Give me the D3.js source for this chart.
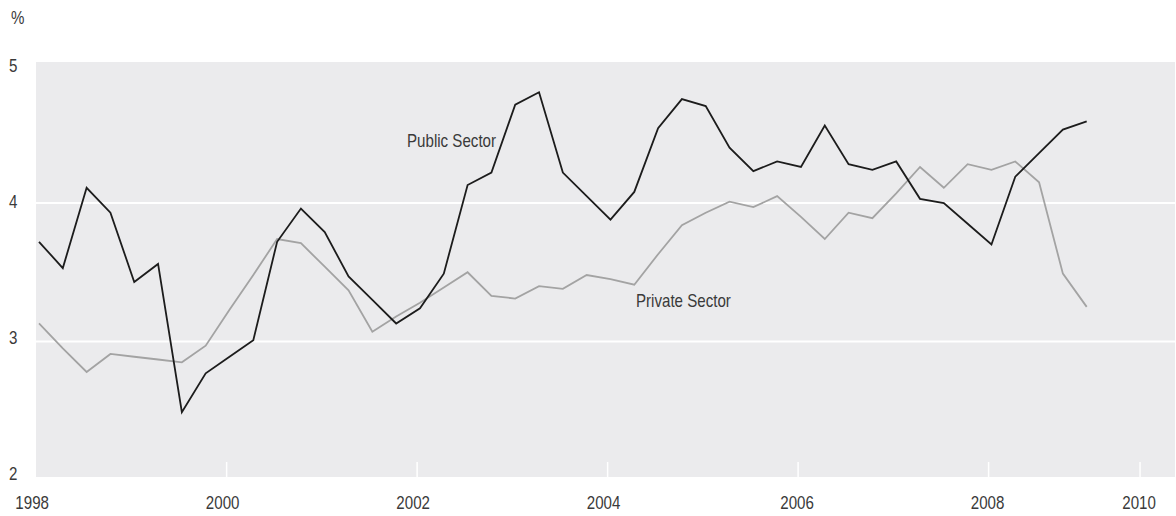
<!DOCTYPE html>
<html>
<head>
<meta charset="utf-8">
<script src="https://cdn.jsdelivr.net/npm/d3@7"></script>
<style>
  html, body { margin: 0; padding: 0; background: #fff; }
  svg text { font-family: "Liberation Sans Narrow", "Arial Narrow", "Liberation Sans", sans-serif; fill: #3a3a3a; }
</style>
</head>
<body>
<div id="chart"></div>
<script>
/* global d3 */

// quarterly, 1998 Q1 .. 2009 Q1
var quarters = d3.range(0, 45).map(function (i) {
  return 1998 + i / 4;
});

var publicSector = [
  3.72, 3.53, 4.11, 3.93, 3.43, 3.56, 2.49, 2.77, 2.89, 3.01,
  3.72, 3.96, 3.79, 3.47, 3.30, 3.13, 3.24, 3.49, 4.13, 4.22,
  4.71, 4.80, 4.22, 4.05, 3.88, 4.08, 4.54, 4.75, 4.70, 4.40,
  4.23, 4.30, 4.26, 4.56, 4.28, 4.24, 4.30, 4.03, 4.00, 3.85,
  3.70, 4.19, 4.36, 4.53, 4.59
];

var privateSector = [
  3.13, 2.95, 2.78, 2.91, 2.89, 2.87, 2.85, 2.97, 3.23, 3.48,
  3.74, 3.71, 3.54, 3.37, 3.07, 3.18, 3.28, 3.39, 3.50, 3.33,
  3.31, 3.40, 3.38, 3.48, 3.45, 3.41, 3.63, 3.84, 3.93, 4.01,
  3.97, 4.05, 3.90, 3.74, 3.93, 3.89, 4.07, 4.26, 4.11, 4.28,
  4.24, 4.30, 4.15, 3.49, 3.25
];

var yTicks = [2, 3, 4, 5];
var xTickLabels = ['1998', '2000', '2002', '2004', '2006', '2008', '2010'];
// the source places the year ticks just ahead of the first quarter, the last one is squeezed in
var xTickAt = [1997.97, 1999.97, 2001.97, 2003.97, 2005.97, 2007.97, 2009.56];

var WIDTH = 1176;
var HEIGHT = 516;
var FONT = 18;
var SQUEEZE = 0.84; // no narrow face installed, so squeeze the regular one
var plot = { left: 36, right: 1175, top: 62, bottom: 477 };

var svg = d3.select('#chart')
  .append('svg')
  .attr('width', WIDTH)
  .attr('height', HEIGHT);

var x = d3.scaleLinear()
  .domain([1998, 2009])
  .range([39, 1086.7]);

var y = d3.scaleLinear()
  .domain([2, 5])
  .range([480, 64.5]);

// the value labels sit a little off the grid in the source
var yLabel = d3.scaleLinear()
  .domain([2, 5])
  .range([474, 66]);

function label(g, px, py, str, anchor) {
  return g.append('text')
    .attr('transform', 'translate(' + px + ',' + py + ') scale(' + SQUEEZE + ',1)')
    .attr('text-anchor', anchor || 'start')
    .attr('font-size', FONT + 'px')
    .text(str);
}

// panel
svg.append('rect')
  .attr('x', plot.left)
  .attr('y', plot.top)
  .attr('width', plot.right - plot.left)
  .attr('height', plot.bottom - plot.top)
  .style('fill', '#ebebed');

// horizontal grid
svg.selectAll('line.grid')
  .data(yTicks.filter(function (d) { return d > 2 && d < 5; }))
  .enter()
  .append('line')
  .attr('class', 'grid')
  .attr('x1', plot.left)
  .attr('x2', plot.right)
  .attr('y1', function (d) { return y(d); })
  .attr('y2', function (d) { return y(d); })
  .style('stroke', '#fff')
  .style('stroke-width', 2);

// small white ticks at the bottom of the panel
svg.selectAll('line.xtick')
  .data(xTickAt.slice(1))
  .enter()
  .append('line')
  .attr('class', 'xtick')
  .attr('x1', function (d) { return x(d); })
  .attr('x2', function (d) { return x(d); })
  .attr('y1', plot.bottom - 15)
  .attr('y2', plot.bottom)
  .style('stroke', '#fff')
  .style('stroke-width', 1.5);

// y labels
yTicks.forEach(function (d) {
  label(svg, 9, yLabel(d) + 6, d);
});

label(svg, 11, 24, '%');

// x labels
xTickLabels.forEach(function (d, i) {
  var dx = i < 4 ? -4 : -1;
  label(svg, x(xTickAt[i]) + dx, 509, d, 'middle');
});

var line = d3.line()
  .x(function (d, i) { return x(quarters[i]); })
  .y(function (d) { return y(d); });

svg.append('path')
  .datum(privateSector)
  .attr('d', line)
  .style('fill', 'none')
  .style('stroke', '#a3a3a3')
  .style('stroke-width', 1.8);

svg.append('path')
  .datum(publicSector)
  .attr('d', line)
  .style('fill', 'none')
  .style('stroke', '#1c1c1c')
  .style('stroke-width', 1.8);

// series labels
label(svg, 407, y(4.407), 'Public Sector');
label(svg, 636, y(3.251), 'Private Sector');
</script>
</body>
</html>
